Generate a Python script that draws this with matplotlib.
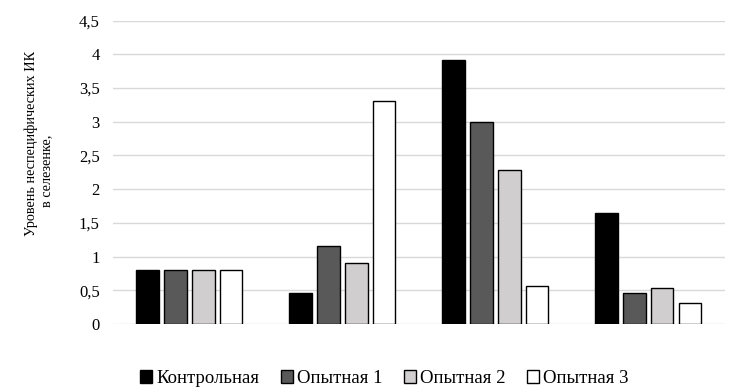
import matplotlib
matplotlib.use("Agg")
import matplotlib.pyplot as plt
import numpy as np
from matplotlib.ticker import FuncFormatter

plt.rcParams['font.family'] = ['Liberation Serif', 'DejaVu Serif']

groups = ["1", "2", "3", "4"]
series_names = ["Контрольная", "Опытная 1", "Опытная 2", "Опытная 3"]
control = [0.80, 0.46, 3.91, 1.65]
exp1 = [0.80, 1.16, 3.00, 0.46]
exp2 = [0.80, 0.90, 2.29, 0.53]
exp3 = [0.80, 3.30, 0.56, 0.31]
yticks = [0, 0.5, 1, 1.5, 2, 2.5, 3, 3.5, 4, 4.5]

colors = ["#000000", "#595959", "#d0cece", "#ffffff"]
data = [control, exp1, exp2, exp3]

fig = plt.figure(figsize=(7.48, 3.92), dpi=100)
ax = fig.add_axes([0.151, 0.1735, 0.818, 0.7742])

x = np.arange(len(groups))
width = 0.147
step = 0.182
for i, (vals, c, name) in enumerate(zip(data, colors, series_names)):
    ax.bar(x + (i - 1.5) * step, vals, width=width, color=c,
           edgecolor="black", linewidth=1.0, label=name, zorder=3)

ax.set_xlim(-0.5, 3.5)
ax.set_ylim(0, 4.5)
ax.set_yticks(yticks)
ax.yaxis.set_major_formatter(FuncFormatter(lambda v, p: ("%g" % v).replace(".", ",")))
ax.set_xticks([])
ax.grid(axis="y", color="#d9d9d9", linewidth=1.0, zorder=0)
for s in ax.spines.values():
    s.set_visible(False)
ax.tick_params(axis="y", length=0, pad=9.5, labelsize=12)

fig.text(0.042, 1 - 143 / 392, "Уровень неспецифических ИК", rotation=90,
         ha="center", va="center", fontsize=10.3)
fig.text(0.063, 1 - 171 / 392, "в селезенке,", rotation=90,
         ha="center", va="center", fontsize=10.3)

fig.legend(loc="center", bbox_to_anchor=(0.514, 0.034), ncol=4, frameon=False,
           fontsize=13.5, handlelength=0.65, handleheight=0.65,
           handletextpad=0.25, columnspacing=1.1, borderaxespad=0)

fig.savefig("out.png", dpi=100)
